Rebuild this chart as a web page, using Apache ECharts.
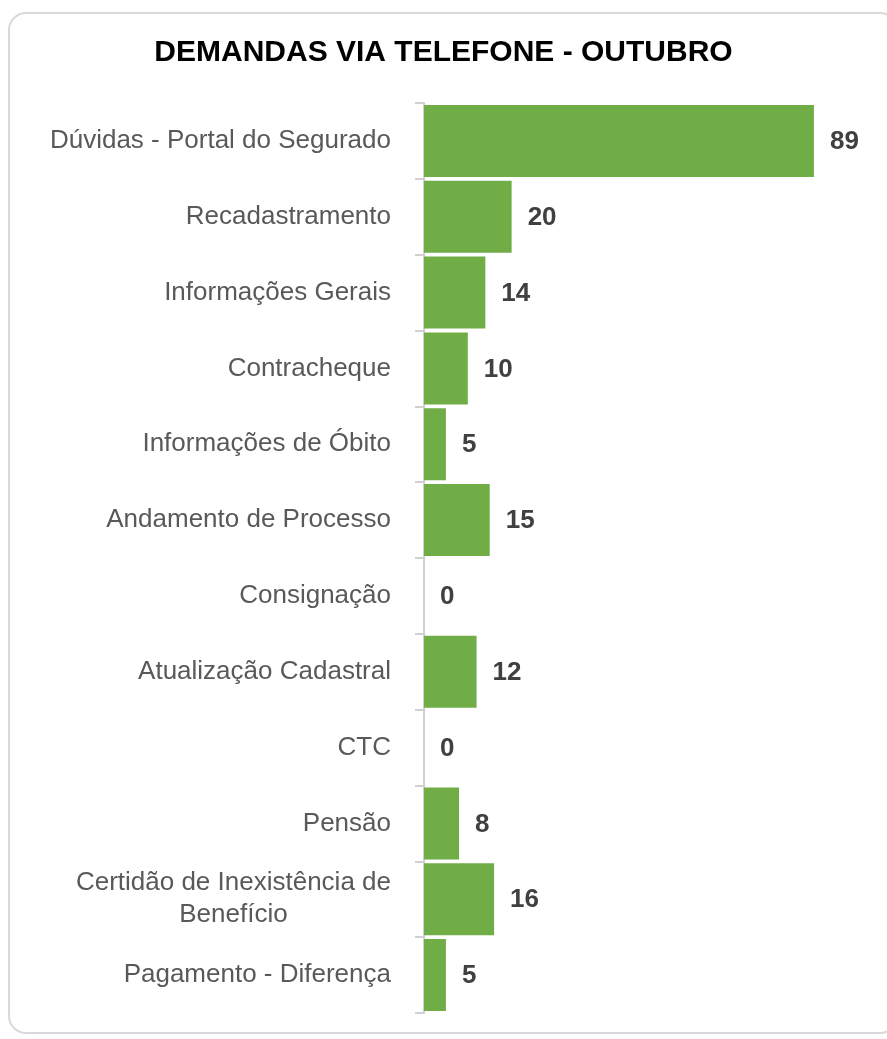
<!DOCTYPE html>
<html>
<head>
<meta charset="utf-8">
<title>Demandas via telefone</title>
<style>
  html, body { margin: 0; padding: 0; background: #fff; }
  #frame {
    position: absolute; left: 8px; top: 12px; width: 890px; height: 1022px;
    border: 2px solid #d9d9d9; border-radius: 18px; box-sizing: border-box;
  }
  #main { position: absolute; left: 0; top: 0; width: 887px; height: 1039px; }
</style>
</head>
<body>
<div id="frame"></div>
<div id="main"></div>
<script src="https://cdn.jsdelivr.net/npm/echarts@6/dist/echarts.min.js"></script>
<script>
// categories, top to bottom
var categories = [
  'Dúvidas - Portal do Segurado',
  'Recadastramento',
  'Informações Gerais',
  'Contracheque',
  'Informações de Óbito',
  'Andamento de Processo',
  'Consignação',
  'Atualização Cadastral',
  'CTC',
  'Pensão',
  'Certidão de Inexistência de\nBenefício',
  'Pagamento - Diferença'
];
var values = [89, 20, 14, 10, 5, 15, 0, 12, 0, 8, 16, 5];

var myChart = echarts.init(document.getElementById('main'));

var font = 'Liberation Sans, Arial, sans-serif';

var option = {
  animation: false,
  title: {
    text: 'DEMANDAS VIA TELEFONE - OUTUBRO',
    left: 'center',
    top: 33,
    textStyle: {
      fontFamily: font,
      fontSize: 30,
      fontWeight: 'bold',
      color: '#000'
    }
  },
  grid: { left: 424, right: 38, top: 103, bottom: 26 },
  xAxis: {
    type: 'value',
    min: 0,
    max: 97,
    show: false
  },
  yAxis: {
    type: 'category',
    inverse: true,
    data: categories,
    axisLine: { show: true, lineStyle: { color: '#d0d0d0', width: 2 } },
    axisTick: { show: true, length: 9, lineStyle: { color: '#d0d0d0', width: 2 } },
    axisLabel: {
      margin: 33,
      fontFamily: font,
      fontSize: 26,
      color: '#595959',
      lineHeight: 32,
      formatter: function (v) {
        if (v.indexOf('\n') >= 0) {
          return v.split('\n').map(function (s) { return '{c|' + s + '}'; }).join('\n');
        }
        return v;
      },
      rich: {
        c: {
          align: 'center',
          fontFamily: font,
          fontSize: 26,
          color: '#595959',
          lineHeight: 32
        }
      }
    }
  },
  series: [{
    type: 'bar',
    data: values,
    barCategoryGap: '5%',
    itemStyle: { color: '#70ad47' },
    label: {
      show: true,
      position: 'right',
      distance: 16,
      offset: [0, 1],
      fontFamily: font,
      fontSize: 26,
      fontWeight: 'bold',
      color: '#404040'
    }
  }]
};

myChart.setOption(option);
</script>
</body>
</html>
